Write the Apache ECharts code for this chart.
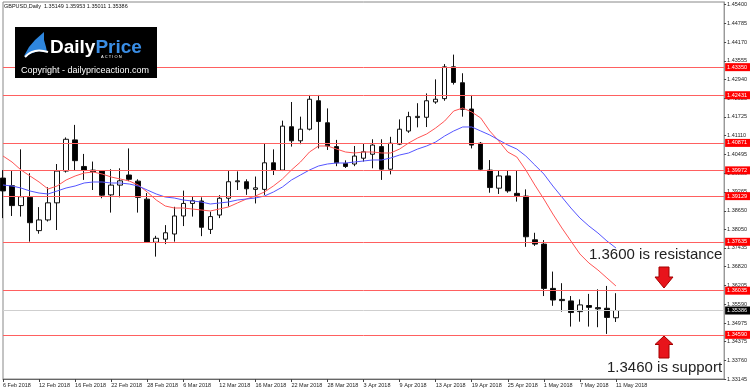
<!DOCTYPE html>
<html>
<head>
<meta charset="utf-8">
<script src="https://cdn.jsdelivr.net/npm/echarts@6/dist/echarts.min.js"></script>
<style>html,body{margin:0;padding:0;background:#fff}#c{width:750px;height:392px}</style>
</head>
<body>
<div id="c"></div>
<script>
const dates = ['6 Feb 2018','7 Feb 2018','8 Feb 2018','9 Feb 2018','12 Feb 2018','13 Feb 2018','14 Feb 2018','15 Feb 2018','16 Feb 2018','19 Feb 2018','20 Feb 2018','21 Feb 2018','22 Feb 2018','23 Feb 2018','26 Feb 2018','27 Feb 2018','28 Feb 2018',
'1 Mar 2018','2 Mar 2018','5 Mar 2018','6 Mar 2018','7 Mar 2018','8 Mar 2018','9 Mar 2018','12 Mar 2018','13 Mar 2018','14 Mar 2018','15 Mar 2018','16 Mar 2018','19 Mar 2018','20 Mar 2018','21 Mar 2018','22 Mar 2018','23 Mar 2018','26 Mar 2018','27 Mar 2018','28 Mar 2018','29 Mar 2018','30 Mar 2018',
'2 Apr 2018','3 Apr 2018','4 Apr 2018','5 Apr 2018','6 Apr 2018','9 Apr 2018','10 Apr 2018','11 Apr 2018','12 Apr 2018','13 Apr 2018','16 Apr 2018','17 Apr 2018','18 Apr 2018','19 Apr 2018','20 Apr 2018','23 Apr 2018','24 Apr 2018','25 Apr 2018','26 Apr 2018','27 Apr 2018','30 Apr 2018',
'1 May 2018','2 May 2018','3 May 2018','4 May 2018','7 May 2018','8 May 2018','9 May 2018','10 May 2018','11 May 2018'];

const opens = [1.3972,1.3947,1.3882,1.3909,1.3800,1.3835,1.3891,1.3995,1.4097,1.4010,
1.3998,1.3995,1.3917,1.3949,1.3982,1.3962,1.3903,1.3762,1.3772,1.3789,
1.3848,1.3889,1.3897,1.3804,1.3851,1.3906,1.3960,1.3960,1.3935,1.3935,
1.4022,1.3998,1.4140,1.4094,1.4132,1.4225,1.4153,1.4075,1.4020,1.4018,
1.4037,1.4050,1.4075,1.4001,1.4083,1.4126,1.4170,1.4171,1.4221,1.4232,
1.4336,1.4284,1.4198,1.4086,1.3998,1.3939,1.3979,1.3922,1.3913,1.3770,
1.3756,1.3611,1.3575,1.3570,1.3535,1.3555,1.3548,1.3546,1.35149];

const closes = [1.3930,1.3882,1.3911,1.3826,1.3835,1.3891,1.3995,1.4099,1.4029,1.3998,
1.3993,1.3916,1.3949,1.3963,1.3968,1.3909,1.3762,1.3775,1.3793,1.3848,
1.3889,1.3898,1.3811,1.3846,1.3906,1.3960,1.3963,1.3937,1.3940,1.4022,
1.3998,1.4142,1.4094,1.4132,1.4230,1.4157,1.4077,1.4022,1.4010,1.4044,
1.4058,1.4080,1.4001,1.4086,1.4132,1.4173,1.4174,1.4225,1.4230,1.4336,
1.4285,1.4197,1.4080,1.4001,1.3941,1.3979,1.3930,1.3914,1.3780,1.3756,
1.3611,1.3573,1.3571,1.3532,1.3557,1.3549,1.3544,1.3516,1.35386];

const lows = [1.3841,1.3848,1.3846,1.3764,1.3790,1.3830,1.3802,1.3990,1.3998,1.3966,
1.3933,1.3906,1.3859,1.3909,1.3962,1.3859,1.3760,1.3715,1.3756,1.3764,
1.3815,1.3846,1.3782,1.3789,1.3841,1.3879,1.3933,1.3917,1.3889,1.3917,
1.3982,1.3995,1.4075,1.4083,1.4128,1.4069,1.4064,1.4011,1.4005,1.4011,
1.4026,1.4004,1.3966,1.3984,1.4080,1.4120,1.4138,1.4139,1.4215,1.4225,
1.4278,1.4173,1.4069,1.3995,1.3924,1.3920,1.3924,1.3895,1.3747,1.3750,
1.3586,1.3554,1.3535,1.3486,1.3502,1.3486,1.3484,1.3462,1.35011];

const highs = [1.3998,1.3995,1.4066,1.3988,1.3877,1.3942,1.4018,1.4105,1.4146,1.4051,
1.4026,1.3998,1.4001,1.4004,1.4069,1.3968,1.3923,1.3783,1.3818,1.3878,
1.3931,1.3911,1.3909,1.3862,1.3916,1.3995,1.3994,1.3968,1.3977,1.4086,
1.4066,1.4160,1.4221,1.4173,1.4244,1.4244,1.4200,1.4097,1.4030,1.4077,
1.4084,1.4099,1.4099,1.4107,1.4164,1.4189,1.4217,1.4249,1.4295,1.4345,
1.4376,1.4315,1.4244,1.4090,1.4031,1.3998,1.3998,1.3998,1.3935,1.3793,
1.3769,1.3666,1.3628,1.3586,1.3575,1.3593,1.3608,1.3619,1.35953];

const maFast = [1.40442,1.40246,1.39984,1.39788,1.39592,1.39362,1.39461,1.39657,1.39788,1.39886,
1.39919,1.39853,1.39755,1.39690,1.39624,1.39493,1.39264,1.39002,1.38806,1.38741,
1.38741,1.38708,1.38675,1.38643,1.38708,1.38773,1.38904,1.39035,1.39133,1.39264,
1.39461,1.39690,1.39984,1.40246,1.40573,1.40770,1.40770,1.40671,1.40573,1.40541,
1.40573,1.40573,1.40541,1.40541,1.40671,1.40868,1.41032,1.41163,1.41359,1.41588,
1.41915,1.42013,1.41882,1.41686,1.41261,1.40933,1.40573,1.40410,1.39984,1.39493,
1.39035,1.38544,1.38087,1.37661,1.37236,1.36941,1.36712,1.36451,1.36189];

const maSlow = [1.39493,1.39461,1.39395,1.39297,1.39231,1.39199,1.39297,1.39395,1.39461,1.39559,
1.39592,1.39592,1.39559,1.39559,1.39526,1.39461,1.39330,1.39199,1.39100,1.39068,
1.39002,1.38970,1.38937,1.38872,1.38904,1.38937,1.39002,1.39035,1.39068,1.39133,
1.39264,1.39428,1.39657,1.39821,1.39984,1.40115,1.40181,1.40213,1.40213,1.40246,
1.40279,1.40312,1.40312,1.40377,1.40475,1.40541,1.40671,1.40770,1.40901,1.41097,
1.41261,1.41392,1.41392,1.41261,1.41130,1.40966,1.40802,1.40671,1.40442,1.40148,
1.39853,1.39461,1.39100,1.38741,1.38414,1.38152,1.37923,1.37661,1.37432];

const levels = [1.43350,1.42431,1.40871,1.39972,1.39129,1.37635,1.36035,1.34590];
const currentPrice = 1.35386;
const yTicks = [1.45400,1.44785,1.44170,1.43555,1.42940,1.42325,1.41725,1.41110,1.40495,1.39880,1.39265,1.38650,1.38050,1.37435,1.36820,1.36205,1.35590,1.34975,1.34375,1.33760,1.33145];
const futureSlots = 12;
const headerText = 'GBPUSD,Daily  1.35149 1.35953 1.35011 1.35386';
const noteResistance = '1.3600 is resistance';
const noteSupport = '1.3460 is support';
const logoWord1 = 'Daily', logoWord2 = 'Price', logoSub = 'A C T I O N';
const copyright = 'Copyright - dailypriceaction.com';

const categories = dates.concat(new Array(futureSlots).fill(''));
const ohlc = dates.map((d, i) => [opens[i], closes[i], lows[i], highs[i]]);
const FONT = '"Liberation Sans", Arial, sans-serif';

const chart = echarts.init(document.getElementById('c'), null, {renderer: 'canvas'});

const levelLines = levels.map(v => ({
  yAxis: v,
  lineStyle: {color: '#ff6060', width: 1, type: 'solid'},
  label: {show: true, position: 'end', distance: 1, formatter: p => Number(p.value).toFixed(5),
    color: '#fff', backgroundColor: '#ff0000', padding: [1, 3, 1, 2], fontSize: 5.5, fontFamily: FONT}
}));
levelLines.push({
  yAxis: currentPrice,
  lineStyle: {color: '#cfcfcf', width: 1, type: 'solid'},
  label: {show: true, position: 'end', distance: 1, formatter: p => Number(p.value).toFixed(5),
    color: '#fff', backgroundColor: '#000', padding: [1, 3, 1, 2], fontSize: 5.5, fontFamily: FONT}
});

const option = {
  animation: false,
  backgroundColor: '#fff',
  grid: {left: 2, top: 2, right: 25, bottom: 13, show: true, borderColor: '#888', borderWidth: 1, backgroundColor: '#fff'},
  xAxis: {
    type: 'category', data: categories, boundaryGap: false,
    axisLine: {show: true, lineStyle: {color: '#666', width: 1}},
    axisTick: {show: true, length: 3, interval: (i, v) => i % 4 === 0 && v !== '', lineStyle: {color: '#444'}},
    axisLabel: {interval: 3, align: 'left', fontSize: 5.5, fontFamily: FONT, color: '#222', margin: 3},
    splitLine: {show: false}
  },
  yAxis: {
    type: 'value', position: 'right', min: 1.33145, max: 1.45482, scale: true,
    axisLine: {show: true, lineStyle: {color: '#999', width: 1}},
    axisTick: {show: true, length: 2, customValues: yTicks, lineStyle: {color: '#444'}},
    axisLabel: {customValues: yTicks, formatter: v => v.toFixed(5), fontSize: 5.5, fontFamily: FONT, color: '#222', margin: 3},
    splitLine: {show: false}
  },
  series: [
    {
      type: 'candlestick', data: ohlc, barWidth: 5, clip: true, z: 3,
      itemStyle: {color: '#ffffff', color0: '#000000', borderColor: '#111', borderColor0: '#111', borderWidth: 1},
      markLine: {silent: true, precision: 5, symbol: ['none', 'none'], animation: false, data: levelLines}
    },
    {type: 'line', data: maFast, showSymbol: false, symbol: 'none', z: 4, lineStyle: {color: '#ff5555', width: 1}, smooth: false},
    {type: 'line', data: maSlow, showSymbol: false, symbol: 'none', z: 4, lineStyle: {color: '#5555ff', width: 1}, smooth: false}
  ],
  graphic: [
    {type: 'text', left: 4, top: 3, z: 100, style: {text: headerText, font: '5.5px ' + FONT, fill: '#111'}},
    {type: 'rect', z: 100, shape: {x: 15, y: 27, width: 142, height: 51}, style: {fill: '#000'}},
    {type: 'polygon', z: 101, shape: {points: [[24,56],[29,47],[35,40],[44,32],[44,40],[46,47],[47,52],[38,51],[30,54]]}, style: {fill: '#2e86de'}},
    {type: 'bezierCurve', z: 102, shape: {x1: 25, y1: 57, x2: 48, y2: 52, cpx1: 33, cpy1: 48, cpx2: 42, cpy2: 50}, style: {stroke: '#fff', lineWidth: 2, fill: null}},
    {type: 'text', z: 102, style: {x: 50, y: 48, text: '{a|' + logoWord1 + '}{b|' + logoWord2 + '}', verticalAlign: 'middle',
      rich: {a: {fill: '#fff', font: 'bold 19px ' + FONT}, b: {fill: '#3a8ee6', font: 'bold 19px ' + FONT}}}},
    {type: 'text', z: 102, style: {x: 101, y: 57, text: logoSub, font: '4px ' + FONT, fill: '#fff', verticalAlign: 'middle'}},
    {type: 'text', z: 102, style: {x: 21, y: 70.5, text: copyright, font: '9px ' + FONT, fill: '#fff', verticalAlign: 'middle'}},
    {type: 'text', z: 100, style: {x: 589, y: 254.5, text: noteResistance, font: '15px ' + FONT, fill: '#222', verticalAlign: 'middle'}},
    {type: 'text', z: 100, style: {x: 607, y: 367.5, text: noteSupport, font: '15px ' + FONT, fill: '#222', verticalAlign: 'middle'}},
    {type: 'polygon', z: 100, shape: {points: [[659,267],[669,267],[669,277],[673,277],[664,288],[655,277],[659,277]]}, style: {fill: '#e8141b', stroke: '#a40000', lineWidth: 1}},
    {type: 'polygon', z: 100, shape: {points: [[664,336],[673,344.5],[669,344.5],[669,358],[659,358],[659,344.5],[655,344.5]]}, style: {fill: '#e8141b', stroke: '#a40000', lineWidth: 1}}
  ]
};
chart.setOption(option);
</script>
</body>
</html>
